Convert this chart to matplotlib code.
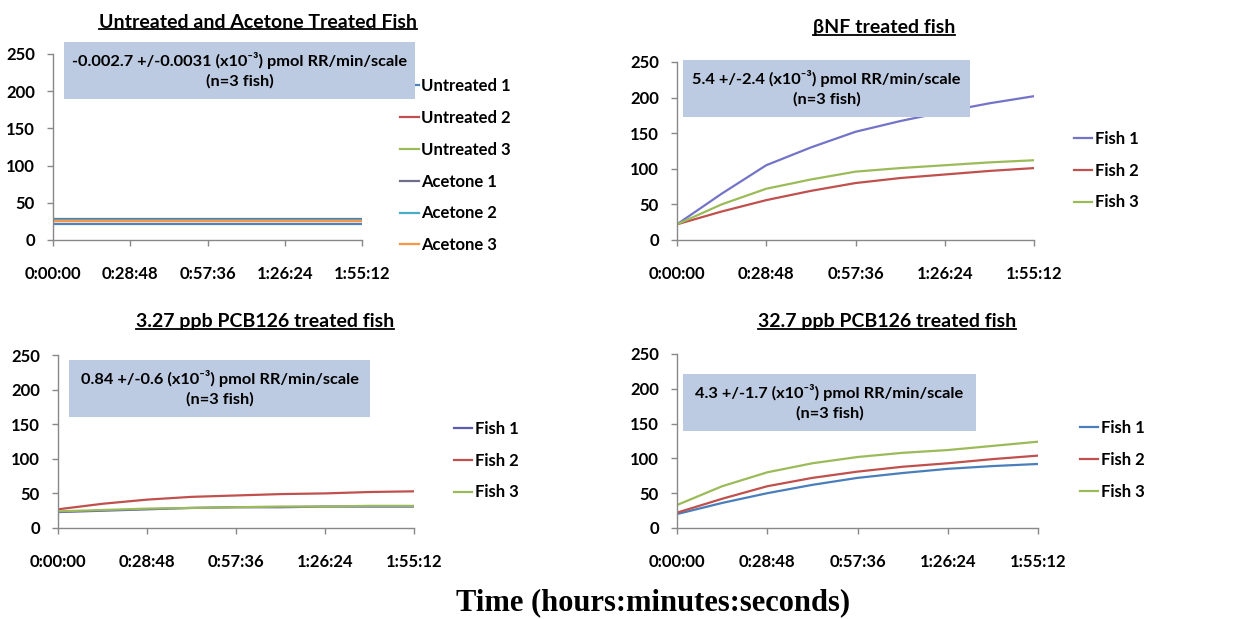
import matplotlib
matplotlib.use("Agg")
import matplotlib.pyplot as plt
from matplotlib.patches import Rectangle
from matplotlib.lines import Line2D
from matplotlib.ticker import FuncFormatter, FixedLocator

# time points in minutes
t_min = [0, 14.4, 28.8, 43.2, 57.6, 72, 86.4, 100.8, 115.2]

# untreated / acetone (flat)
untreated1 = [21, 21, 21, 21, 21, 21, 21, 21, 21]
untreated2 = [26, 26, 26, 26, 26, 26, 26, 26, 26]
untreated3 = [27, 27, 27, 27, 27, 27, 27, 27, 27]
acetone1 = [28, 28, 28, 28, 28, 28, 28, 28, 28]
acetone2 = [27, 27, 27, 27, 27, 27, 27, 27, 27]
acetone3 = [25, 25, 25, 25, 25, 25, 25, 25, 25]

# beta-NF
bnf1 = [22, 65, 105, 130, 152, 167, 180, 192, 202]
bnf2 = [22, 40, 56, 69, 80, 87, 92, 97, 101]
bnf3 = [22, 50, 72, 85, 96, 101, 105, 109, 112]

# 3.27 ppb PCB126
low1 = [23, 25, 27, 29, 30, 30, 31, 31, 31]
low2 = [27, 35, 41, 45, 47, 49, 50, 52, 53]
low3 = [24, 26, 28, 29, 30, 31, 31, 32, 32]

# 32.7 ppb PCB126
high1 = [20, 36, 50, 62, 72, 79, 85, 89, 92]
high2 = [22, 42, 60, 72, 81, 88, 93, 99, 104]
high3 = [33, 60, 80, 93, 102, 108, 112, 118, 124]

titles = ["Untreated and Acetone Treated Fish", "\u03b2NF treated fish",
          "3.27 ppb PCB126 treated fish", "32.7 ppb PCB126 treated fish"]
box_texts = ["-0.002.7 +/-0.0031 (x10\u207b\u00b3) pmol RR/min/scale\n(n=3 fish)",
             "5.4 +/-2.4 (x10\u207b\u00b3) pmol RR/min/scale\n(n=3 fish)",
             "0.84 +/-0.6 (x10\u207b\u00b3) pmol RR/min/scale\n(n=3 fish)",
             "4.3 +/-1.7 (x10\u207b\u00b3) pmol RR/min/scale\n(n=3 fish)"]
fish_labels = ["Fish 1", "Fish 2", "Fish 3"]
ctrl_labels = ["Untreated 1", "Untreated 2", "Untreated 3",
               "Acetone 1", "Acetone 2", "Acetone 3"]

W, H = 1241, 619
FONT = ["Lato", "DejaVu Sans"]
plt.rcParams['font.family'] = FONT
plt.rcParams['font.weight'] = 'bold'

fig = plt.figure(figsize=(W / 100, H / 100), dpi=100)

def px_axes(l, r, y0, y250):
    return fig.add_axes([l / W, 1 - y0 / H, (r - l) / W, (y0 - y250) / H])

def hms(x, pos):
    s = int(round(x))
    return "%d:%02d:%02d" % (s // 3600, (s % 3600) // 60, s % 60)

def style(ax):
    ax.set_xlim(0, 6912)
    ax.set_ylim(0, 250)
    ax.xaxis.set_major_locator(FixedLocator([0, 1728, 3456, 5184, 6912]))
    ax.xaxis.set_major_formatter(FuncFormatter(hms))
    ax.set_yticks([0, 50, 100, 150, 200, 250])
    for s in ['top', 'right']:
        ax.spines[s].set_visible(False)
    for s in ['left', 'bottom']:
        ax.spines[s].set_color('#888888')
        ax.spines[s].set_linewidth(1.0)
    ax.tick_params(colors='#888888', labelcolor='black', labelsize=12,
                   length=4, width=1)
    ax.tick_params(axis='x', pad=15)
    ax.tick_params(axis='y', pad=9)
    for lab in ax.get_xticklabels() + ax.get_yticklabels():
        lab.set_fontweight('bold')
    ax.patch.set_alpha(0)

def box(l, r, top, bot, text):
    fig.patches.append(Rectangle((l / W, 1 - bot / H), (r - l) / W, (bot - top) / H,
                                 transform=fig.transFigure, facecolor='#bccbe2',
                                 edgecolor='none', zorder=3))
    fig.text((l + r) / 2 / W, 1 - (top + bot) / 2 / H, text, ha='center', va='center',
             fontsize=11.8, fontweight='bold', linespacing=1.4, zorder=4)

def legend(ax, x, y):
    ax.legend(loc='center left', bbox_to_anchor=(x, y), frameon=False,
              prop={'family': FONT, 'weight': 'bold', 'size': 12},
              handlelength=1.1, handletextpad=0.15, labelspacing=0.95)

t_sec = [m * 60 for m in t_min]
lw = 1.6

# top-left
ax1 = px_axes(53, 362, 240, 54)
ctrl_colors = ['#4F81BD', '#C0504D', '#9BBB59', '#6E6E8A', '#4BACC6', '#F79646']
for y, c, lab in zip([untreated1, untreated2, untreated3, acetone1, acetone2, acetone3],
                     ctrl_colors, ctrl_labels):
    ax1.plot(t_sec, y, color=c, lw=lw, label=lab)
style(ax1)
legend(ax1, 1.075, 0.40)

# top-right
ax2 = px_axes(677, 1034, 240, 62)
for y, c, lab in zip([bnf1, bnf2, bnf3], ['#7373C8', '#C0504D', '#9BBB59'], fish_labels):
    ax2.plot(t_sec, y, color=c, lw=lw, label=lab)
style(ax2)
legend(ax2, 1.07, 0.39)

# bottom-left
ax3 = px_axes(58, 414, 528, 355)
for y, c, lab in zip([low1, low2, low3], ['#5B5BB0', '#C0504D', '#9BBB59'], fish_labels):
    ax3.plot(t_sec, y, color=c, lw=lw, label=lab)
style(ax3)
legend(ax3, 1.07, 0.39)

# bottom-right
ax4 = px_axes(677, 1038, 528, 354)
for y, c, lab in zip([high1, high2, high3], ['#4A7EBB', '#C0504D', '#9BBB59'], fish_labels):
    ax4.plot(t_sec, y, color=c, lw=lw, label=lab)
style(ax4)
legend(ax4, 1.075, 0.39)

# annotation boxes
box(64, 415, 42, 99, box_texts[0])
box(683, 970, 60, 117, box_texts[1])
box(69, 370, 360, 417, box_texts[2])
box(683, 976, 374, 431, box_texts[3])

# underlined panel titles
title_pos = [(258, 22), (884, 28), (265, 322), (887, 322)]
title_objs = []
for (x, y), t in zip(title_pos, titles):
    title_objs.append(fig.text(x / W, 1 - y / H, t, ha='center', va='center',
                               fontsize=14, fontweight='bold'))

fig.text(653 / W, 1 - 603 / H, "Time (hours:minutes:seconds)", ha='center',
         va='center', fontsize=22, fontweight='bold', family='Liberation Serif')

fig.canvas.draw()
r = fig.canvas.get_renderer()
for t in title_objs:
    bb = t.get_window_extent(r)
    y = bb.y0 + 1.5
    fig.lines.append(Line2D([bb.x0 / W, bb.x1 / W], [y / H, y / H],
                            transform=fig.transFigure, color='black', lw=1.3))

fig.savefig("out.png", dpi=100)
